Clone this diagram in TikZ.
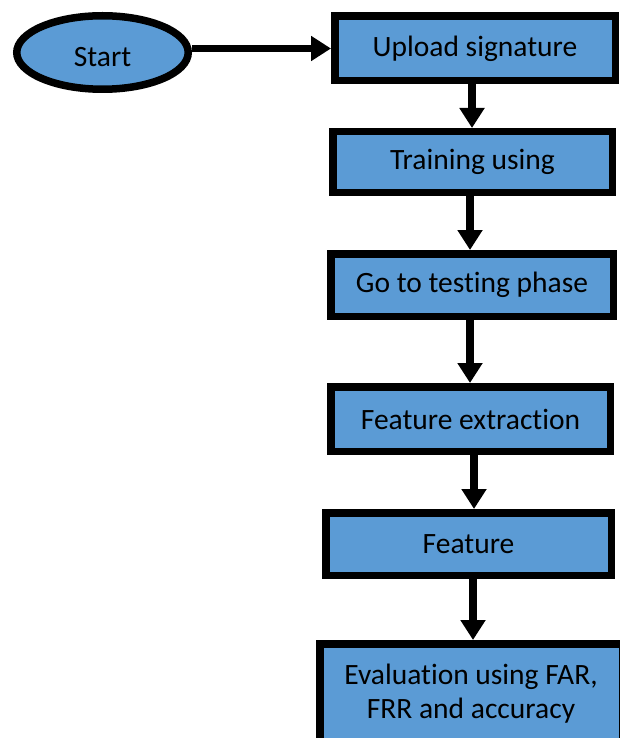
\documentclass[tikz,border=0pt]{standalone}
\usepackage{fontspec}
\setmainfont{Carlito}[Ligatures=NoCommon]
\usetikzlibrary{shapes.geometric,arrows.meta}
\definecolor{boxblue}{HTML}{5B9BD5}
\tikzset{
  stepbox/.style={draw=black, fill=boxblue, line width=7.5pt, rectangle, inner sep=0pt, outer sep=3.75pt,
    align=center, font=\fontsize{29.5}{34}\selectfont},
  startnode/.style={draw=black, fill=boxblue, line width=7.5pt, ellipse, inner sep=0pt, outer sep=3.75pt,
    font=\fontsize{29.5}{34}\selectfont},
  flow/.style={line width=7.5pt, -{Triangle[width=24pt,length=20pt]}}
}
\begin{document}
\begin{tikzpicture}[x=1pt,y=-1pt]
\useasboundingbox (0,0) rectangle (620,738);
\node[startnode, minimum width=171.5pt, minimum height=73.5pt] (start) at (102.5,52.5) {\raisebox{-4.5pt}[\height][\depth]{Start}};
\node[stepbox, minimum width=280.5pt, minimum height=64.5pt] (b1) at (475,48.5) {Upload signature};
\node[stepbox, minimum width=279.5pt, minimum height=60.5pt] (b2) at (472.5,162) {Training using};
\node[stepbox, minimum width=282.5pt, minimum height=62.5pt] (b3) at (472,285) {Go to testing phase};
\node[stepbox, minimum width=279.5pt, minimum height=64.5pt] (b4) at (470.5,419) {Feature extraction};
\node[stepbox, minimum width=285.5pt, minimum height=62.5pt] (b5) at (468.5,544) {Feature};
\node[stepbox, minimum width=302.5pt, minimum height=100.5pt] (b6) at (471,694) {Evaluation using FAR,\\FRR and accuracy};
\draw[flow] (start.east |- b1.west) -- (b1.west);
\draw[flow] ([xshift=-3pt]b1.south) -- ([xshift=-3pt]b1.south |- b2.north);
\draw[flow] ([xshift=-2.5pt]b2.south) -- ([xshift=-2.5pt]b2.south |- b3.north);
\draw[flow] ([xshift=-2pt]b3.south) -- ([xshift=-2pt]b3.south |- b4.north);
\draw[flow] ([xshift=3.5pt]b4.south) -- ([xshift=3.5pt]b4.south |- b5.north);
\draw[flow] ([xshift=4.5pt]b5.south) -- ([xshift=4.5pt]b5.south |- b6.north);
\end{tikzpicture}
\end{document}
